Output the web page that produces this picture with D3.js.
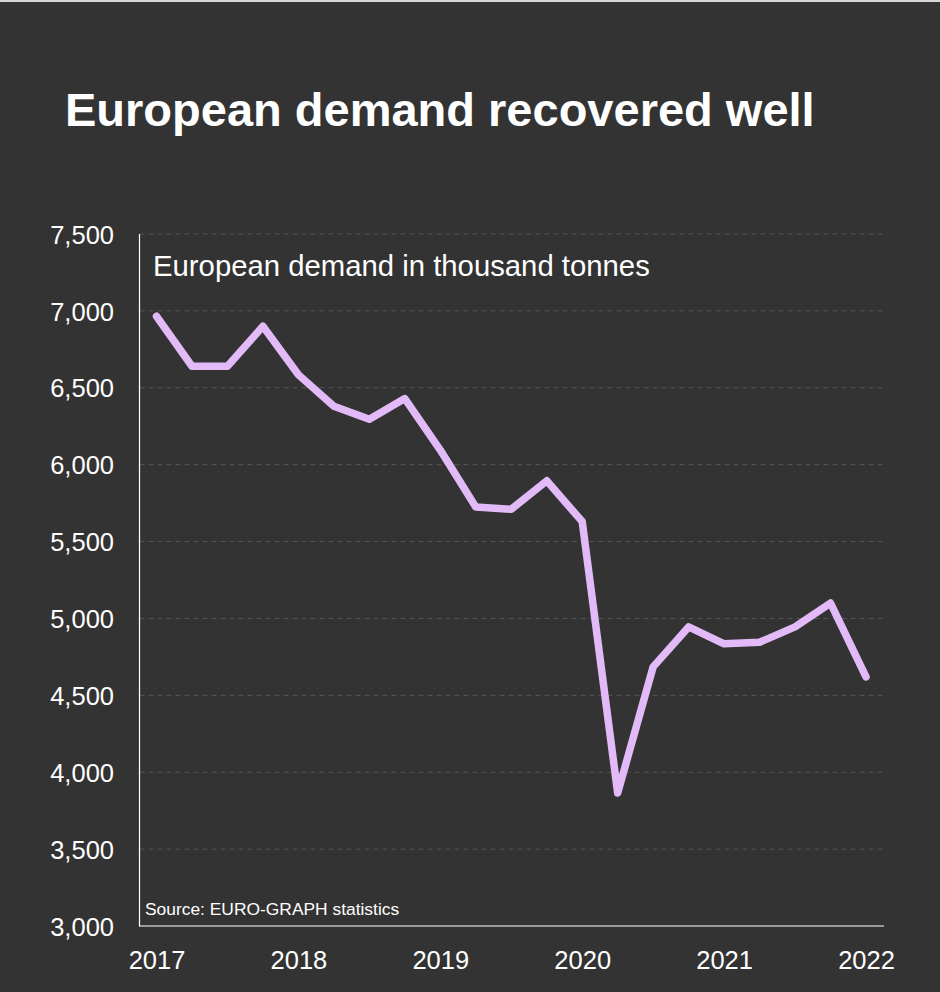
<!DOCTYPE html>
<html>
<head>
<meta charset="utf-8">
<script src="https://cdn.jsdelivr.net/npm/d3@7"></script>
<style>
  html, body { margin: 0; padding: 0; background: #333333; }
  svg { display: block; }
  text { font-family: "Liberation Sans", Arial, Helvetica, sans-serif; }
</style>
</head>
<body>
<div id="chart"></div>
<script>
// ---- Data ----
const quarters = [2017, 2017.25, 2017.5, 2017.75, 2018, 2018.25, 2018.5, 2018.75,
                  2019, 2019.25, 2019.5, 2019.75, 2020, 2020.25, 2020.5, 2020.75,
                  2021, 2021.25, 2021.5, 2021.75, 2022];
const demand = [6965, 6640, 6640, 6900, 6585, 6380, 6295, 6430,
                6095, 5725, 5710, 5895, 5630, 3865, 4685, 4945,
                4835, 4845, 4945, 5100, 4620];
const yearTicks = [2017, 2018, 2019, 2020, 2021, 2022];
const valueTicks = [3000, 3500, 4000, 4500, 5000, 5500, 6000, 6500, 7000, 7500];
const titleText = "European demand recovered well";
const subtitleText = "European demand in thousand tonnes";
const sourceText = "Source: EURO-GRAPH statistics";

// ---- Layout ----
const W = 940, H = 992;
const svg = d3.select("#chart").append("svg").attr("width", W).attr("height", H);

svg.append("rect").attr("x", 0).attr("y", 0).attr("width", W).attr("height", H).attr("fill", "#333333");
svg.append("rect").attr("x", 0).attr("y", 0).attr("width", W).attr("height", 2).attr("fill", "#d8d8d8");

const axisLeft = 139.5, axisRight = 884, plotTop = 234, plotBottom = 926;

const x = d3.scaleLinear().domain([2017, 2022]).range([156.5, 866]);
const y = d3.scaleLinear().domain([3000, 7500]).range([plotBottom, plotTop]);

// Title
svg.append("text").attr("x", 65).attr("y", 126)
  .attr("fill", "#ffffff").attr("font-size", 47).attr("font-weight", "bold")
  .text(titleText);

// Gridlines
svg.append("g").selectAll("line")
  .data(valueTicks.filter(v => v > 3000))
  .join("line")
  .attr("x1", axisLeft).attr("x2", axisRight)
  .attr("y1", d => y(d)).attr("y2", d => y(d))
  .attr("stroke", "#575757").attr("stroke-width", 1)
  .attr("stroke-dasharray", "5,4");

// Y axis labels
const yAxis = d3.axisLeft(y).tickValues(valueTicks).tickFormat(d3.format(",")).tickSize(0).tickPadding(0);
const gy = svg.append("g").attr("transform", `translate(114,0)`).call(yAxis);
gy.select(".domain").remove();
gy.selectAll("text").attr("fill", "#ffffff").attr("font-size", 25.5)
  .attr("font-family", "'Liberation Sans', Arial, sans-serif").attr("dy", "0.36em");

// X axis labels
const xAxis = d3.axisBottom(x).tickValues(yearTicks).tickFormat(d3.format("d")).tickSize(0).tickPadding(0);
const gx = svg.append("g").attr("transform", `translate(0,951)`).call(xAxis);
gx.select(".domain").remove();
gx.selectAll("text").attr("fill", "#ffffff").attr("font-size", 25.5)
  .attr("font-family", "'Liberation Sans', Arial, sans-serif").attr("dy", "0.72em");

// Axis lines
svg.append("line").attr("x1", axisLeft).attr("x2", axisLeft).attr("y1", plotTop).attr("y2", plotBottom + 0.5)
  .attr("stroke", "#ffffff").attr("stroke-width", 1.2);
svg.append("line").attr("x1", axisLeft).attr("x2", axisRight).attr("y1", plotBottom).attr("y2", plotBottom)
  .attr("stroke", "#ffffff").attr("stroke-width", 1.2);

// Subtitle
svg.append("text").attr("x", 153).attr("y", 276)
  .attr("fill", "#ffffff").attr("font-size", 29.3)
  .text(subtitleText);

// Source
svg.append("text").attr("x", 145).attr("y", 915)
  .attr("fill", "#ffffff").attr("font-size", 17.4)
  .text(sourceText);

// Line
const line = d3.line().x((d, i) => x(quarters[i])).y(d => y(d));
svg.append("path").datum(demand)
  .attr("d", line)
  .attr("fill", "none")
  .attr("stroke", "#e2baf8")
  .attr("stroke-width", 7.5)
  .attr("stroke-linejoin", "round")
  .attr("stroke-linecap", "round");
</script>
</body>
</html>
